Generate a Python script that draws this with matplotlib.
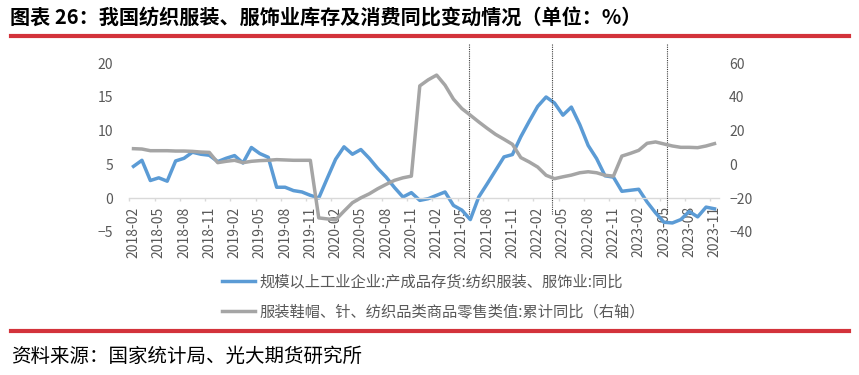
import numpy as np
import pandas as pd
import matplotlib
matplotlib.use('Agg')
import matplotlib.pyplot as plt
from matplotlib.lines import Line2D

plt.rcParams['font.family'] = ['Noto Sans CJK SC', 'DejaVu Sans']
plt.rcParams['axes.unicode_minus'] = True

# monthly categories 2018-02 .. 2023-11
months = [p.strftime('%Y-%m') for p in pd.period_range('2018-02', '2023-11', freq='M')]

# 规模以上工业企业:产成品存货:纺织服装、服饰业:同比 (left axis, %)
inv_yoy = [4.7, 5.6, 2.6, 3.0, 2.5, 5.5, 5.9, 6.8, 6.5, 6.35,
           5.4, 5.9, 6.3, 5.2, 7.5, 6.6, 6.05, 1.6, 1.6, 1.1,
           0.9, 0.4, 0.0, 2.9, 5.75, 7.6, 6.5, 7.2, 5.9, 4.4,
           3.1, 1.55, 0.15, 0.8, -0.35, -0.1, 0.4, 0.9, -1.1, -1.8,
           -3.2, 0.15, 2.1, 4.1, 6.1, 6.45, 9.1, 11.4, 13.6, 15.0,
           14.1, 12.3, 13.5, 10.9, 7.8, 5.85, 3.3, 3.1, 1.0, 1.15,
           1.3, -0.6, -2.2, -3.6, -3.7, -3.2, -2.0, -2.8, -1.35, -1.6]

# 服装鞋帽、针、纺织品类商品零售类值:累计同比 (right axis, %)
retail_yoy = [9.3, 9.1, 8.1, 8.1, 8.1, 7.9, 7.9, 7.7, 7.3, 7.1,
              1.0, 1.8, 2.4, 1.0, 1.8, 2.2, 2.4, 2.8, 2.6, 2.4,
              2.4, 2.4, -31.8, -32.4, -33.0, -27.8, -22.8, -19.9, -17.5, -14.5,
              -11.9, -9.5, -8.0, -7.0, 46.6, 50.2, 53.0, 47.0, 38.7, 33.1,
              29.2, 25.2, 21.4, 17.8, 14.9, 11.9, 4.0, 1.4, -1.6, -6.5,
              -8.5, -7.4, -6.4, -5.0, -4.4, -5.0, -6.5, -7.0, 4.9, 6.5,
              8.3, 12.5, 13.3, 12.1, 10.9, 10.1, 10.1, 9.9, 10.9, 12.3]

label_inv = '规模以上工业企业:产成品存货:纺织服装、服饰业:同比'
label_retail = '服装鞋帽、针、纺织品类商品零售类值:累计同比（右轴）'
title = '图表 26：我国纺织服装、服饰业库存及消费同比变动情况（单位：%）'
source = '资料来源：国家统计局、光大期货研究所'

left_ticks = [-5, 0, 5, 10, 15, 20]
right_ticks = [-40, -20, 0, 20, 40, 60]
# dotted marker lines (category position)
marker_pos = [39.9, 49.75, 63.4]

W, H = 859, 375
fig = plt.figure(figsize=(W / 100, H / 100), dpi=100)
ax = fig.add_axes([129.3 / W, 1 - 231.7 / H, (718.7 - 129.3) / W, (231.7 - 63.3) / H])

x = np.arange(len(months))
l1, = ax.plot(x, inv_yoy, color='#5b9bd5', lw=2.5, solid_joinstyle='round')
ax.set_xlim(-0.5, len(months) - 0.5)
ax.set_ylim(left_ticks[0], left_ticks[-1])
ax.set_yticks(left_ticks)

ax2 = ax.twinx()
l2, = ax2.plot(x, retail_yoy, color='#a5a5a5', lw=2.5, solid_joinstyle='round')
ax2.set_ylim(right_ticks[0], right_ticks[-1])
ax2.set_yticks(right_ticks)

for a in (ax, ax2):
    for s in a.spines.values():
        s.set_visible(False)
    a.patch.set_visible(False)

ax.spines['bottom'].set_visible(True)
ax.spines['bottom'].set_position(('data', 0))
ax.spines['bottom'].set_color('#d9d9d9')
ax.spines['bottom'].set_linewidth(1.0)

ax.set_xticks(x[::3])
ax.set_xticklabels(months[::3], rotation=90)
ax.set_xticks(x[::3] - 0.5, minor=True)
ax.tick_params(axis='x', which='major', length=0, pad=6, labelsize=10, labelcolor='#595959')
ax.tick_params(axis='x', which='minor', length=2.5, width=1, color='#d9d9d9')
ax.tick_params(axis='y', length=0, pad=11.5, labelsize=10, labelcolor='#595959')
ax2.tick_params(axis='y', length=0, pad=7.5, labelsize=10, labelcolor='#595959')

ax.vlines(marker_pos, -2.3, 23.0, colors='#404040', linestyles=(0, (1, 1)), lw=0.8, clip_on=False, zorder=5)

fig.legend([l1, l2], [label_inv, label_retail], loc='upper left',
           bbox_to_anchor=(221.7 / W, 1 - 273 / H), frameon=False, fontsize=11,
           handlelength=2.2, handletextpad=0.25, labelspacing=0.85,
           borderpad=0, borderaxespad=0, labelcolor='#595959')

fig.text(10.5 / W, 1 - 18 / H, title, fontsize=14.5, fontweight='bold', va='center', ha='left')
fig.text(11 / W, 1 - 356.7 / H, source, fontsize=14, va='center', ha='left')
for yy in (36.3, 330.7):
    fig.add_artist(Line2D([11 / W, 849 / W], [1 - yy / H, 1 - yy / H], color='#d3333b', lw=3))

fig.savefig('out.png', dpi=100)
